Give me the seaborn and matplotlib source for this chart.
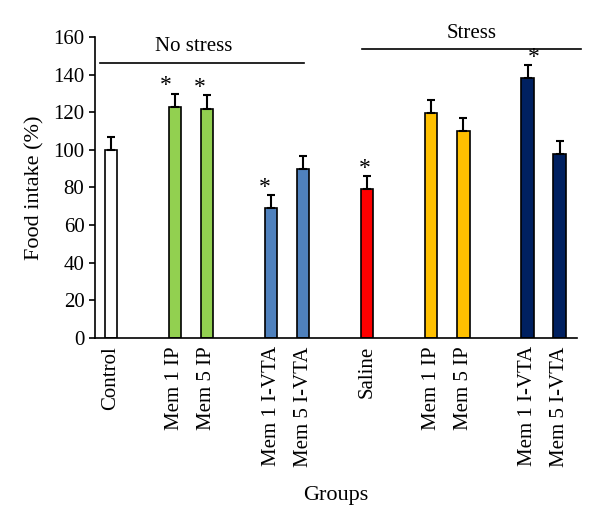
import numpy as np
import pandas as pd
import matplotlib
matplotlib.use("Agg")
import matplotlib.pyplot as plt
import seaborn as sns

# data
groups = ["Control", "Mem 1 IP", "Mem 5 IP", "Mem 1 I-VTA", "Mem 5 I-VTA",
          "Saline", "Mem 1 IP ", "Mem 5 IP ", "Mem 1 I-VTA ", "Mem 5 I-VTA "]
tick_labels = ["Control", "Mem 1 IP", "Mem 5 IP", "Mem 1 I-VTA", "Mem 5 I-VTA",
               "Saline", "Mem 1 IP", "Mem 5 IP", "Mem 1 I-VTA", "Mem 5 I-VTA"]
slots = [0, 2, 3, 5, 6, 8, 10, 11, 13, 14]
intake = [100, 123, 122, 69, 90, 79, 119.5, 110, 138, 98]
sem = [7, 7, 7, 7, 7, 7, 7, 7, 7, 7]
significant = [False, True, True, True, False, True, False, False, True, False]
star_dx = [0, -0.3, -0.22, -0.2, 0, -0.08, 0, 0, 0.18, 0]
colors = ["#FFFFFF", "#92D050", "#92D050", "#4F81BD", "#4F81BD",
          "#FF0000", "#FFC000", "#FFC000", "#002060", "#002060"]

df = pd.DataFrame({"group": groups, "slot": slots, "intake": intake, "sem": sem})

plt.rcParams["font.family"] = ["Liberation Serif", "DejaVu Serif"]

fig = plt.figure(figsize=(6, 5.23), dpi=100)
ax = fig.add_axes([0.158, 0.354, 0.804, 0.575])

sns.barplot(data=df, x="slot", y="intake", hue="group", palette=colors,
            native_scale=True, width=0.38, dodge=False, legend=False,
            saturation=1, edgecolor="black", linewidth=1.2, errorbar=None, ax=ax)

# one-sided error bars
ax.errorbar(slots, intake, yerr=[np.zeros(len(sem)), sem], fmt="none",
            ecolor="black", elinewidth=1.5, capsize=3, capthick=1.5)

for s, v, e, sig, dx in zip(slots, intake, sem, significant, star_dx):
    if sig:
        ax.text(s + dx, v + e - 1.5, "*", ha="center", va="bottom", fontsize=17)

# group brackets
ax.plot([-0.34, 6.03], [146, 146], color="black", lw=1.2, clip_on=False)
ax.text(2.6, 150, "No stress", ha="center", va="bottom", fontsize=15)
ax.plot([7.84, 14.66], [153.5, 153.5], color="black", lw=1.2, clip_on=False)
ax.text(11.25, 157, "Stress", ha="center", va="bottom", fontsize=15, clip_on=False)

ax.set_xlim(-0.5, 14.55)
ax.set_ylim(0, 160)
ax.set_yticks(range(0, 161, 20))
ax.set_xticks(slots)
ax.set_xticklabels(tick_labels, rotation=90, fontsize=15)
ax.tick_params(axis="x", length=0, pad=6)
ax.tick_params(axis="y", labelsize=15, length=4, width=1.2, direction="out")
ax.set_xlabel("Groups", fontsize=16, labelpad=14)
ax.set_ylabel("Food intake (%)", fontsize=16, labelpad=6)
sns.despine(ax=ax)
ax.spines["left"].set_linewidth(1.2)
ax.spines["bottom"].set_linewidth(1.2)

fig.savefig("out.png", dpi=100)
